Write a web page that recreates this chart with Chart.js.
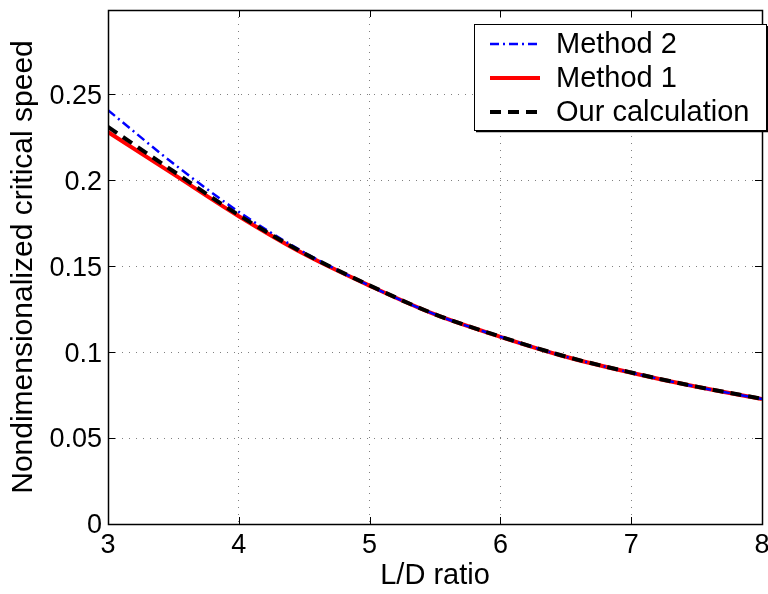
<!DOCTYPE html>
<html>
<head>
<meta charset="utf-8">
<script src="https://cdn.jsdelivr.net/npm/chart.js@4/dist/chart.umd.min.js"></script>
<style>
  body { margin: 0; background: #fff; }
  canvas { display: block; }
</style>
</head>
<body>
<canvas id="speedChart" width="768" height="594"></canvas>
<script>
// values
const ldRatio = [3, 3.5, 4, 4.5, 5, 5.5, 6, 6.5, 7, 7.5, 8];
const method2 = [0.2407, 0.2097, 0.1816, 0.158, 0.1386, 0.1219, 0.1089, 0.0973, 0.088, 0.0798, 0.0727];
const method1 = [0.228, 0.2035, 0.179, 0.157, 0.1386, 0.1219, 0.1089, 0.0973, 0.088, 0.0798, 0.0727];
const ourCalc = [0.231, 0.2052, 0.1797, 0.1575, 0.1388, 0.122, 0.109, 0.0974, 0.0881, 0.0799, 0.0728];
const xTicks = [3, 4, 5, 6, 7, 8];
const yTicks = [0, 0.05, 0.1, 0.15, 0.2, 0.25];

const fontFamily = '"Liberation Sans", Arial, Helvetica, sans-serif';
Chart.defaults.font.family = fontFamily;
Chart.defaults.font.size = 27;
Chart.defaults.color = '#000';

function toPoints(ys) {
    return ldRatio.map((x, i) => ({x: x, y: ys[i]}));
}

// box around the axes with inward ticks, like matlab
const boxTicks = {
    id: 'boxTicks',
    afterDatasetsDraw(chart) {
        const ctx = chart.ctx;
        const a = chart.chartArea;
        const xs = chart.scales.x, ys = chart.scales.y;
        const len = 7;
        ctx.save();
        ctx.strokeStyle = '#000';
        ctx.lineWidth = 1;
        ctx.beginPath();
        xTicks.forEach(v => {
            const px = Math.round(xs.getPixelForValue(v)) + 0.5;
            ctx.moveTo(px, a.bottom); ctx.lineTo(px, a.bottom - len);
            ctx.moveTo(px, a.top); ctx.lineTo(px, a.top + len);
        });
        yTicks.forEach(v => {
            const py = Math.round(ys.getPixelForValue(v)) + 0.5;
            ctx.moveTo(a.left, py); ctx.lineTo(a.left + len, py);
            ctx.moveTo(a.right, py); ctx.lineTo(a.right - len, py);
        });
        ctx.stroke();
        ctx.lineWidth = 1.5;
        ctx.strokeRect(Math.round(a.left) + 0.5, Math.round(a.top) + 0.5,
            Math.round(a.right - a.left), Math.round(a.bottom - a.top));
        ctx.restore();
    }
};

// legend box in the upper right corner
const boxLegend = {
    id: 'boxLegend',
    afterDraw(chart) {
        const ctx = chart.ctx;
        const a = chart.chartArea;
        const bx = a.right - 288, by = a.top + 14, bw = 292, bh = 106;
        ctx.save();
        ctx.fillStyle = '#fff';
        ctx.fillRect(bx, by, bw, bh);
        ctx.strokeStyle = '#000';
        ctx.lineWidth = 1;
        ctx.strokeRect(bx + 0.5, by + 0.5, bw, bh);
        ctx.lineWidth = 1.5;
        ctx.beginPath();
        ctx.moveTo(bx + bw + 1.5, by + 2); ctx.lineTo(bx + bw + 1.5, by + bh + 1.5); ctx.lineTo(bx + 2, by + bh + 1.5);
        ctx.stroke();
        ctx.font = '29px ' + fontFamily;
        ctx.textBaseline = 'middle';
        ctx.textAlign = 'left';
        chart.data.datasets.forEach((ds, i) => {
            const cy = by + 20 + i * 34;
            ctx.strokeStyle = ds.borderColor;
            ctx.lineWidth = ds.borderWidth;
            ctx.setLineDash(ds.borderDash || []);
            ctx.beginPath();
            ctx.moveTo(bx + 16, cy);
            ctx.lineTo(bx + 66, cy);
            ctx.stroke();
            ctx.setLineDash([]);
            ctx.fillStyle = '#000';
            ctx.fillText(ds.label, bx + 82, cy + 1);
        });
        ctx.restore();
    }
};

const chartData = {
    datasets: [{
        label: 'Method 2',
        data: toPoints(method2),
        borderColor: '#0000ff',
        borderWidth: 2.5,
        borderDash: [9, 4, 2, 4],
        order: 2
    }, {
        label: 'Method 1',
        data: toPoints(method1),
        borderColor: '#ff0000',
        borderWidth: 4,
        order: 3
    }, {
        label: 'Our calculation',
        data: toPoints(ourCalc),
        borderColor: '#000000',
        borderWidth: 4,
        borderDash: [11, 7],
        order: 1
    }]
};

new Chart(document.getElementById('speedChart'), {
    type: 'line',
    data: chartData,
    plugins: [boxTicks, boxLegend],
    options: {
        responsive: false,
        animation: false,
        layout: {padding: {top: 10, right: 6, left: 0, bottom: 0}},
        elements: {
            point: {radius: 0},
            line: {cubicInterpolationMode: 'monotone', fill: false}
        },
        plugins: {
            legend: {display: false},
            tooltip: {enabled: false}
        },
        scales: {
            x: {
                type: 'linear',
                min: 3,
                max: 8,
                afterBuildTicks: (scale) => { scale.ticks = xTicks.map(v => ({value: v})); },
                afterFit: (scale) => { scale.height = 70; scale.paddingLeft = 0; scale.paddingRight = 0; },
                ticks: {font: {size: 27, family: fontFamily}, padding: 5, maxRotation: 0, autoSkip: false, callback: (v) => String(v)},
                grid: {color: '#808080', lineWidth: 1, drawTicks: false},
                border: {display: false, dash: [1, 6]},
                title: {display: true, text: 'L/D ratio', font: {size: 29, lineHeight: 1.2}, padding: {top: 0, bottom: 1}}
            },
            y: {
                min: 0,
                max: 0.299,
                afterBuildTicks: (scale) => { scale.ticks = yTicks.map(v => ({value: v})); },
                afterFit: (scale) => { scale.width = 108; scale.paddingTop = 0; scale.paddingBottom = 0; },
                ticks: {font: {size: 27, family: fontFamily}, padding: 6, labelOffset: 2, autoSkip: false, callback: (v) => String(v)},
                grid: {color: '#808080', lineWidth: 1, drawTicks: false},
                border: {display: false, dash: [1, 6]},
                title: {display: true, text: 'Nondimensionalized critical speed', font: {size: 30, lineHeight: 1.2}, padding: {top: 6, bottom: 0}}
            }
        }
    }
});
</script>
</body>
</html>
